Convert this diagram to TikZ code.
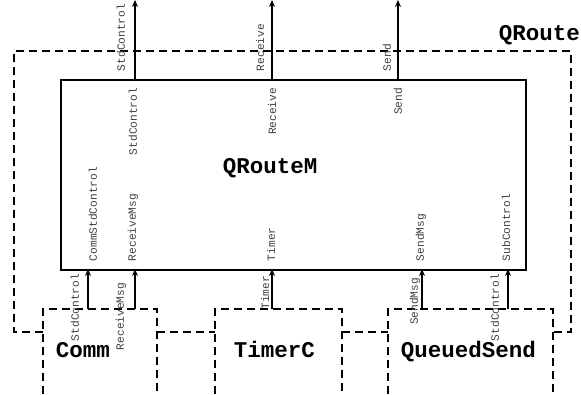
\documentclass[tikz,border=0pt]{standalone}
\usepackage{fontspec}
\setmonofont{Liberation Mono}
\usetikzlibrary{arrows.meta,positioning}
\tikzset{
  port/.style={font=\ttfamily\fontsize{11.2}{12}\selectfont, rotate=90, inner sep=0pt, text=black!75},
  comp/.style={font=\ttfamily\bfseries\fontsize{22.5}{24}\selectfont, inner sep=0pt},
  wire/.style={dash pattern=on 8pt off 5pt, line width=1.8pt},
}

\begin{document}
\begin{tikzpicture}[>={Stealth[length=7pt,width=6pt]}, x=1pt, y=-1pt, line width=1.8pt]
    \useasboundingbox (0,0) rectangle (581,394);

    % Configuration outline
    \draw[wire] (43,332) -- (14,332) -- (14,51) -- (571,51) -- (571,332) -- (553,332);
    \draw[wire] (157,332) -- (215,332);
    \draw[wire] (342,332) -- (388,332);
    \node[comp, anchor=base west] (qroute) at (498,40) {QRoute};

    % Module
    \node[draw, minimum width=465pt, minimum height=190pt, inner sep=0pt, anchor=north west] (qroutem-box) at (60,79) {};
    \node[comp, anchor=base west] (qroutem) at (222,173) {QRouteM};

    % Components
    \draw[wire] (43,394) -- (43,309) -- (157,309) -- (157,394);
    \draw[wire] (215,394) -- (215,309) -- (342,309) -- (342,394);
    \draw[wire] (388,394) -- (388,309) -- (553,309) -- (553,394);
    \node[comp, anchor=base west] (comm) at (55,357) {Comm};
    \node[comp, anchor=base west] (timerc) at (233,357) {TimerC};
    \node[comp, anchor=base west] (queuedsend) at (400,357) {QueuedSend};

    % Ports
    \coordinate (std-top) at (135,79);   \coordinate (std-out) at (135,0);
    \coordinate (rcv-top) at (272,79);   \coordinate (rcv-out) at (272,0);
    \coordinate (snd-top) at (398,79);   \coordinate (snd-out) at (398,0);
    \coordinate (commstd-m) at (88,269); \coordinate (commstd-c) at (88,309);
    \coordinate (rcvmsg-m) at (135,269); \coordinate (rcvmsg-c) at (135,309);
    \coordinate (timer-m) at (272,269);  \coordinate (timer-c) at (272,309);
    \coordinate (sndmsg-m) at (422,269); \coordinate (sndmsg-c) at (422,309);
    \coordinate (subctl-m) at (508,269); \coordinate (subctl-c) at (508,309);

    % Wiring
    \draw[->] (std-top) -- (std-out);
    \draw[->] (rcv-top) -- (rcv-out);
    \draw[->] (snd-top) -- (snd-out);
    \draw[->] (commstd-c) -- (commstd-m);
    \draw[->] (rcvmsg-c) -- (rcvmsg-m);
    \draw[->] (timer-c) -- (timer-m);
    \draw[->] (sndmsg-c) -- (sndmsg-m);
    \draw[->] (subctl-c) -- (subctl-m);

    % Port labels, outside
    \node[port, anchor=west] (std-lbl) at (121,72) {StdControl};
    \node[port, anchor=west] (rcv-lbl) at (260,72) {Receive};
    \node[port, anchor=west] (snd-lbl) at (387,72) {Send};
    \node[port, anchor=east] (commstd-lbl) at (75,273) {StdControl};
    \node[port, anchor=east] (rcvmsg-lbl) at (121,282) {ReceiveMsg};
    \node[port, anchor=east] (timer-lbl) at (265,275) {Timer};
    \node[port, anchor=east] (sndmsg-lbl) at (415,277) {SendMsg};
    \node[port, anchor=east] (subctl-lbl) at (495,273) {StdControl};

    % Port labels, inside
    \node[port, anchor=east] (std-in) at (133,87) {StdControl};
    \node[port, anchor=east] (rcv-in) at (272,87) {Receive};
    \node[port, anchor=east] (snd-in) at (398,87) {Send};
    \node[port, anchor=west] (commstd-in) at (93,262) {CommStdControl};
    \node[port, anchor=west] (rcvmsg-in) at (133,262) {ReceiveMsg};
    \node[port, anchor=west] (timer-in) at (271,262) {Timer};
    \node[port, anchor=west] (sndmsg-in) at (421,262) {SendMsg};
    \node[port, anchor=west] (subctl-in) at (506,262) {SubControl};
\end{tikzpicture}
\end{document}
